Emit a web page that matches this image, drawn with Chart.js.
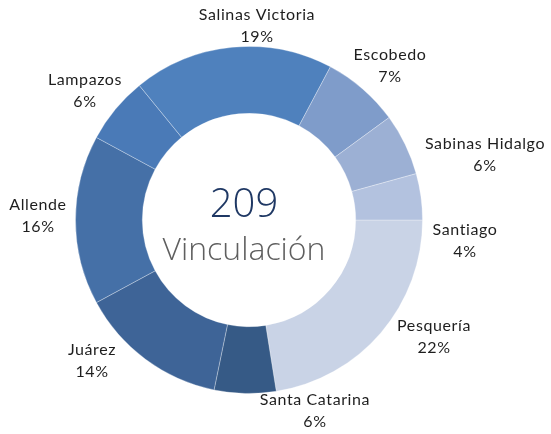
<!DOCTYPE html>
<html>
<head>
<meta charset="utf-8">
<script src="https://cdn.jsdelivr.net/npm/chart.js@4/dist/chart.umd.min.js"></script>
<style>
  html, body { margin: 0; padding: 0; background: #fff; }
  #wrap { width: 551px; height: 434px; position: relative; }
</style>
</head>
<body>
<div id="wrap"><canvas id="chart" width="551" height="434"></canvas></div>
<script>
// --- data (clockwise from 3 o'clock) ---
const municipios = ['Pesquería', 'Santa Catarina', 'Juárez', 'Allende', 'Lampazos',
                    'Salinas Victoria', 'Escobedo', 'Sabinas Hidalgo', 'Santiago'];
const vinculaciones = [47, 12, 29, 33, 13, 39, 15, 12, 9];
const centerLabel = 'Vinculación';

// --- palette ---
const sliceColors = ['#C9D3E6', '#365A86', '#3E6497', '#4570A7', '#4A7AB7',
                     '#4F81BD', '#7F9CCA', '#9CB0D4', '#B3C2DF'];

// label block centre, offset from the doughnut centre (layout only)
const labelOffsets = [
  [185, 117], [66, 191], [-157, 141], [-211, -4], [-164, -129],
  [8, -194], [141, -154], [236, -65], [216, 21]
];

const total = vinculaciones.reduce((a, b) => a + b, 0);

const labelsPlugin = {
  id: 'outLabels',
  afterDraw(chart) {
    const ctx = chart.ctx;
    const arc = chart.getDatasetMeta(0).data[0];
    const cx = arc.x, cy = arc.y;
    ctx.save();
    ctx.textAlign = 'center';
    ctx.textBaseline = 'middle';
    ctx.fillStyle = '#1e1e1e';
    ctx.font = '16px Lato, "Liberation Sans", sans-serif';
    ctx.letterSpacing = '0.6px';
    vinculaciones.forEach((v, i) => {
      const [dx, dy] = labelOffsets[i];
      const pct = Math.round(v / total * 100) + '%';
      ctx.fillText(municipios[i], cx + dx, cy + dy - 11);
      ctx.fillText(pct, cx + dx, cy + dy + 11);
    });
    // centre text
    ctx.letterSpacing = '0px';
    ctx.fillStyle = '#1F3864';
    ctx.font = '300 40px "Open Sans", Lato, sans-serif';
    ctx.textBaseline = 'alphabetic';
    ctx.fillText(String(total), cx - 5, cy - 3);
    ctx.fillStyle = '#5F5F5F';
    ctx.font = '300 32px "Open Sans", Lato, sans-serif';
    ctx.fillText(centerLabel, cx - 5, cy + 40);
    ctx.restore();
  }
};

new Chart(document.getElementById('chart'), {
  type: 'doughnut',
  data: {
    labels: municipios,
    datasets: [{
      data: vinculaciones,
      backgroundColor: sliceColors,
      borderColor: 'rgba(255,255,255,0.3)',
      borderWidth: 1
    }]
  },
  options: {
    responsive: false,
    animation: false,
    rotation: 90,
    cutout: '61.5%',
    layout: { padding: { left: 75, right: 128, top: 46, bottom: 40 } },
    plugins: {
      legend: { display: false },
      tooltip: { enabled: false }
    }
  },
  plugins: [labelsPlugin]
});
</script>
</body>
</html>
